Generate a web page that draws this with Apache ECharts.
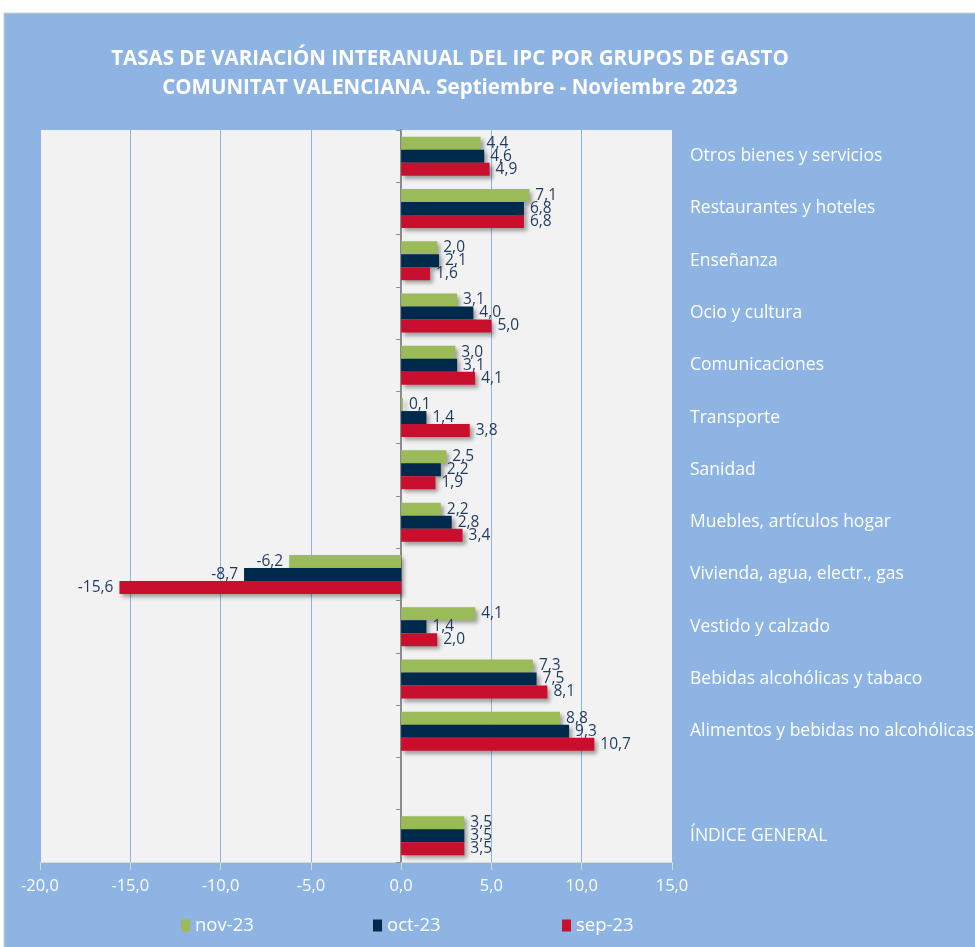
<!DOCTYPE html>
<html>
<head>
<meta charset="utf-8">
<script src="https://cdn.jsdelivr.net/npm/echarts@6/dist/echarts.min.js"></script>
<style>
  html, body { margin: 0; padding: 0; background: #fff; }
  #chart { width: 975px; height: 947px; }
</style>
</head>
<body>
<div id="chart"></div>
<script>
// grupos de gasto, de arriba a abajo (hueco vacío antes del índice general)
const categories = [
  'Otros bienes y servicios',
  'Restaurantes y hoteles',
  'Enseñanza',
  'Ocio y cultura',
  'Comunicaciones',
  'Transporte',
  'Sanidad',
  'Muebles, artículos hogar',
  'Vivienda, agua, electr., gas',
  'Vestido y calzado',
  'Bebidas alcohólicas y tabaco',
  'Alimentos y bebidas no alcohólicas',
  '',
  'ÍNDICE GENERAL'
]
const nov23 = [4.4, 7.1, 2.0, 3.1, 3.0, 0.1, 2.5, 2.2, -6.2, 4.1, 7.3, 8.8, '-', 3.5]
const oct23 = [4.6, 6.8, 2.1, 4.0, 3.1, 1.4, 2.2, 2.8, -8.7, 1.4, 7.5, 9.3, '-', 3.5]
const sep23 = [4.9, 6.8, 1.6, 5.0, 4.1, 3.8, 1.9, 3.4, -15.6, 2.0, 8.1, 10.7, '-', 3.5]
const seriesNames = ['nov-23', 'oct-23', 'sep-23']
const xTicks = [-20, -15, -10, -5, 0, 5, 10, 15]

const fmt = v => Number(v).toFixed(1).replace('.', ',')

const toItems = arr => arr.map(v => {
  if (v === '-') return '-'
  return v < 0 ? { value: v, label: { position: 'left' } } : v
})

const makeSeries = (name, arr, color) => ({
  name: name,
  type: 'bar',
  yAxisIndex: 0,
  barWidth: 13,
  barGap: '0%',
  data: toItems(arr),
  itemStyle: {
    color: color,
    shadowBlur: 4,
    shadowOffsetX: 3,
    shadowOffsetY: 3,
    shadowColor: 'rgba(0,0,0,0.35)'
  },
  label: {
    show: true,
    position: 'right',
    distance: 6,
    color: '#1F3A5F',
    fontSize: 15.5,
    fontFamily: 'Open Sans',
    formatter: p => fmt(p.value)
  }
})

const legendAt = (name, left) => ({
  data: [name],
  left: left,
  top: 911,
  itemWidth: 9,
  itemHeight: 12,
  icon: 'rect',
  textStyle: { color: '#fff', fontSize: 18.5, fontFamily: 'Open Sans' }
})

const chart = echarts.init(document.getElementById('chart'))
const option = {
  animation: false,
  backgroundColor: '#fff',
  graphic: [
    {
      type: 'rect',
      shape: { x: 4, y: 13, width: 980, height: 940 },
      style: { fill: '#8DB4E2', stroke: '#D0D0D0', lineWidth: 1 },
      z: -10
    }
  ],
  title: {
    text: 'TASAS DE VARIACIÓN INTERANUAL DEL IPC POR GRUPOS DE GASTO\nCOMUNITAT VALENCIANA. Septiembre - Noviembre 2023',
    left: 445,
    top: 40,
    textAlign: 'center',
    textStyle: {
      color: '#fff',
      fontSize: 20.5,
      fontWeight: 'bold',
      fontFamily: 'Open Sans',
      lineHeight: 29
    }
  },
  legend: [
    legendAt(seriesNames[0], 176),
    legendAt(seriesNames[1], 368),
    legendAt(seriesNames[2], 557)
  ],
  grid: {
    left: 40,
    right: 303,
    top: 130,
    bottom: 85,
    outerBoundsMode: 'none',
    show: true,
    backgroundColor: '#F2F2F2',
    borderWidth: 0
  },
  xAxis: {
    type: 'value',
    min: xTicks[0],
    max: xTicks[xTicks.length - 1],
    interval: 5,
    axisLine: { show: true, lineStyle: { color: '#D9D9D9', width: 1 } },
    axisTick: { show: true, length: 8, lineStyle: { color: '#D9D9D9' } },
    axisLabel: {
      color: '#fff',
      fontSize: 16.5,
      fontFamily: 'Open Sans',
      margin: 16,
      formatter: v => fmt(v)
    },
    splitLine: { show: true, lineStyle: { color: '#8DB4E2', width: 1 } }
  },
  yAxis: [
    {
      type: 'category',
      data: categories,
      inverse: true,
      axisLine: { show: true, onZero: true, lineStyle: { color: '#8C8C8C', width: 2 } },
      axisTick: { show: true, length: 5, lineStyle: { color: '#8C8C8C' } },
      axisLabel: { show: false },
      splitLine: { show: false }
    },
    {
      type: 'category',
      data: categories,
      inverse: true,
      position: 'right',
      axisLine: { show: false },
      axisTick: { show: false },
      axisLabel: {
        color: '#fff',
        fontSize: 17.5,
        fontFamily: 'Open Sans',
        margin: 18,
        align: 'left'
      },
      splitLine: { show: false }
    }
  ],
  series: [
    makeSeries(seriesNames[0], nov23, '#9BBB59'),
    makeSeries(seriesNames[1], oct23, '#002A4C'),
    makeSeries(seriesNames[2], sep23, '#C8102E')
  ]
}
chart.setOption(option)
</script>
</body>
</html>
